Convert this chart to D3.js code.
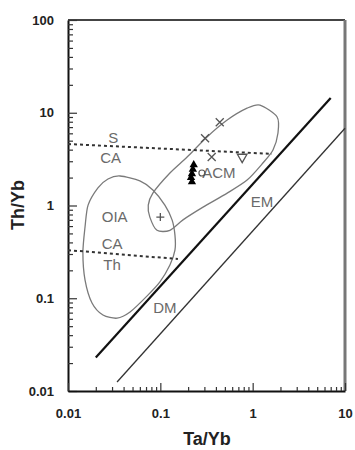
<!DOCTYPE html>
<html>
<head>
<meta charset="utf-8">
<script src="https://cdn.jsdelivr.net/npm/d3@7"></script>
<style>
  body { margin: 0; background: #fff; }
  svg { display: block; }
</style>
</head>
<body>
<script>
"use strict";

// axis ticks
const xTicks = [0.01, 0.1, 1, 10];
const yTicks = [0.01, 0.1, 1, 10, 100];

// OIA field outline (Ta/Yb, Th/Yb)
const oiaX = [0.0366, 0.060, 0.083, 0.112, 0.134, 0.144, 0.144, 0.127, 0.099, 0.072, 0.047, 0.034, 0.0239, 0.0182, 0.0153, 0.0145, 0.0153, 0.0165, 0.0211, 0.0271];
const oiaY = [2.08, 1.84, 1.47, 1.01, 0.70, 0.48, 0.33, 0.228, 0.150, 0.106, 0.071, 0.061, 0.066, 0.089, 0.157, 0.31, 0.59, 1.01, 1.55, 1.93];

// ACM field outline
const acmX = [1.20, 1.84, 1.88, 1.66, 1.29, 0.87, 0.53, 0.29, 0.176, 0.127, 0.092, 0.077, 0.074, 0.083, 0.127, 0.195, 0.32, 0.53, 0.87];
const acmY = [12.1, 9.0, 6.05, 3.97, 2.87, 1.88, 1.36, 0.96, 0.70, 0.54, 0.54, 0.75, 1.01, 1.36, 2.24, 3.33, 5.48, 8.35, 11.2];

// mantle array boundaries
const upperArrayX = [0.02, 7.0];
const upperArrayY = [0.023, 14.4];
const lowerArrayX = [0.034, 10];
const lowerArrayY = [0.0125, 6.8];

// dashed divides
const sCaX = [0.01, 1.62];
const sCaY = [4.6, 3.6];
const caThX = [0.01, 0.155];
const caThY = [0.33, 0.265];

// samples
const plusPts = [[0.1, 0.75]];
const timesPts = [[0.44, 7.9], [0.305, 5.3], [0.36, 3.33]];
const triDownPts = [[0.77, 3.33]];
const circlePts = [[0.282, 2.24]];
const blackTriX = [0.23, 0.225, 0.22, 0.215, 0.22];
const blackTriY = [2.75, 2.45, 2.2, 2.0, 1.8];

// field labels
const fieldLabels = ["S", "CA", "OIA", "CA", "Th", "ACM", "EM", "DM"];
const fieldLabelX = [0.031, 0.029, 0.032, 0.030, 0.030, 0.43, 1.26, 0.112];
const fieldLabelY = [4.75, 2.9, 0.66, 0.34, 0.20, 1.98, 0.96, 0.069];

const w = 355;
const h = 450;
const pLeft = 68, pRight = 345, pTop = 20, pBottom = 391;

const svg = d3.select("body").append("svg").attr("width", w).attr("height", h);

const xScale = d3.scaleLog().domain([0.01, 10]).range([pLeft, pRight]);
const yScale = d3.scaleLog().domain([0.01, 100]).range([pBottom, pTop]);

function minors(lo, hi) {
  const out = [];
  for (let d = lo; d < hi; d *= 10) {
    for (let k = 2; k <= 9; k++) out.push(+(d * k).toPrecision(3));
  }
  return out;
}

// frame top and right
svg.append("line").attr("x1", pLeft).attr("x2", pRight).attr("y1", pTop).attr("y2", pTop)
  .attr("stroke", "#444").attr("stroke-width", 2);
svg.append("line").attr("x1", pRight).attr("x2", pRight).attr("y1", pTop).attr("y2", pBottom)
  .attr("stroke", "#777").attr("stroke-width", 3);

// y axis
svg.append("g").attr("transform", `translate(${pLeft},0)`)
  .call(d3.axisLeft(yScale).tickValues(yTicks).tickSizeInner(-9).tickSizeOuter(0).tickPadding(14)
    .tickFormat(d => String(d)));
svg.append("g").attr("transform", `translate(${pLeft},0)`)
  .call(d3.axisLeft(yScale).tickValues(minors(0.01, 100)).tickSize(-5).tickFormat(""))
  .call(g => g.select(".domain").remove());

// x axis
svg.append("g").attr("transform", `translate(0,${pBottom})`)
  .call(d3.axisBottom(xScale).tickValues(xTicks).tickSizeInner(-8).tickSizeOuter(0).tickPadding(18)
    .tickFormat(d => String(d)));
svg.append("g").attr("transform", `translate(0,${pBottom})`)
  .call(d3.axisBottom(xScale).tickValues(minors(0.01, 10)).tickSize(-4).tickFormat(""))
  .call(g => g.select(".domain").remove());

svg.selectAll(".domain").attr("stroke", "#111").attr("stroke-width", 2);
svg.selectAll(".tick line").attr("stroke", "#333").attr("stroke-width", 1.2);
svg.selectAll(".tick text")
  .attr("font-family", "'Liberation Sans', Arial, sans-serif")
  .attr("font-size", 13).attr("font-weight", "bold").attr("fill", "#222");

// axis titles
svg.append("text").attr("x", 207).attr("y", 445).attr("text-anchor", "middle")
  .attr("font-family", "'Liberation Sans', Arial, sans-serif").attr("font-size", 18)
  .attr("font-weight", "bold").attr("fill", "#222").text("Ta/Yb");
svg.append("text").attr("transform", "translate(24,205) rotate(-90)").attr("text-anchor", "middle")
  .attr("font-family", "'Liberation Sans', Arial, sans-serif").attr("font-size", 18)
  .attr("font-weight", "bold").attr("fill", "#222").text("Th/Yb");

const plot = svg.append("g");
const lineGen = d3.line().x(d => xScale(d[0])).y(d => yScale(d[1]));
const closedGen = d3.line().x(d => xScale(d[0])).y(d => yScale(d[1])).curve(d3.curveCardinalClosed.tension(0.2));

// fields
plot.append("path").datum(oiaX.map((v, i) => [v, oiaY[i]])).attr("d", closedGen)
  .attr("fill", "none").attr("stroke", "#7a7a7a").attr("stroke-width", 1.3);
plot.append("path").datum(acmX.map((v, i) => [v, acmY[i]])).attr("d", closedGen)
  .attr("fill", "none").attr("stroke", "#7a7a7a").attr("stroke-width", 1.3);

// mantle array
plot.append("path").datum(upperArrayX.map((v, i) => [v, upperArrayY[i]])).attr("d", lineGen)
  .attr("stroke", "#111").attr("stroke-width", 2.2);
plot.append("path").datum(lowerArrayX.map((v, i) => [v, lowerArrayY[i]])).attr("d", lineGen)
  .attr("stroke", "#333").attr("stroke-width", 1.3);

// dashed divides
[[sCaX, sCaY], [caThX, caThY]].forEach(([xs, ys]) => {
  plot.append("path").datum(xs.map((v, i) => [v, ys[i]])).attr("d", lineGen)
    .attr("stroke", "#333").attr("stroke-width", 2).attr("stroke-dasharray", "3,3");
});

// labels
plot.selectAll("text.field").data(fieldLabels).enter().append("text")
  .attr("class", "field")
  .attr("x", (d, i) => xScale(fieldLabelX[i]))
  .attr("y", (d, i) => yScale(fieldLabelY[i]))
  .attr("text-anchor", "middle")
  .attr("font-family", "'Liberation Sans', Arial, sans-serif")
  .attr("font-size", 15).attr("fill", "#6a6a6a")
  .text(d => d);

// sample symbols
plot.selectAll("path.plus").data(plusPts).enter().append("path")
  .attr("transform", d => `translate(${xScale(d[0])},${yScale(d[1])})`)
  .attr("d", "M-4,0H4M0,-4V4").attr("stroke", "#555").attr("stroke-width", 1.3);
plot.selectAll("path.times").data(timesPts).enter().append("path")
  .attr("transform", d => `translate(${xScale(d[0])},${yScale(d[1])})`)
  .attr("d", "M-4,-4L4,4M-4,4L4,-4").attr("stroke", "#555").attr("stroke-width", 1.3);
plot.selectAll("path.tri").data(triDownPts).enter().append("path")
  .attr("transform", d => `translate(${xScale(d[0])},${yScale(d[1])}) rotate(180)`)
  .attr("d", d3.symbol(d3.symbolTriangle, 40)).attr("fill", "none").attr("stroke", "#555").attr("stroke-width", 1.3);
plot.selectAll("circle.open").data(circlePts).enter().append("circle")
  .attr("cx", d => xScale(d[0])).attr("cy", d => yScale(d[1])).attr("r", 3)
  .attr("fill", "none").attr("stroke", "#555").attr("stroke-width", 1.2);
plot.selectAll("path.black").data(blackTriX).enter().append("path")
  .attr("transform", (d, i) => `translate(${xScale(d)},${yScale(blackTriY[i])})`)
  .attr("d", d3.symbol(d3.symbolTriangle, 30)).attr("fill", "#000");
</script>
</body>
</html>
